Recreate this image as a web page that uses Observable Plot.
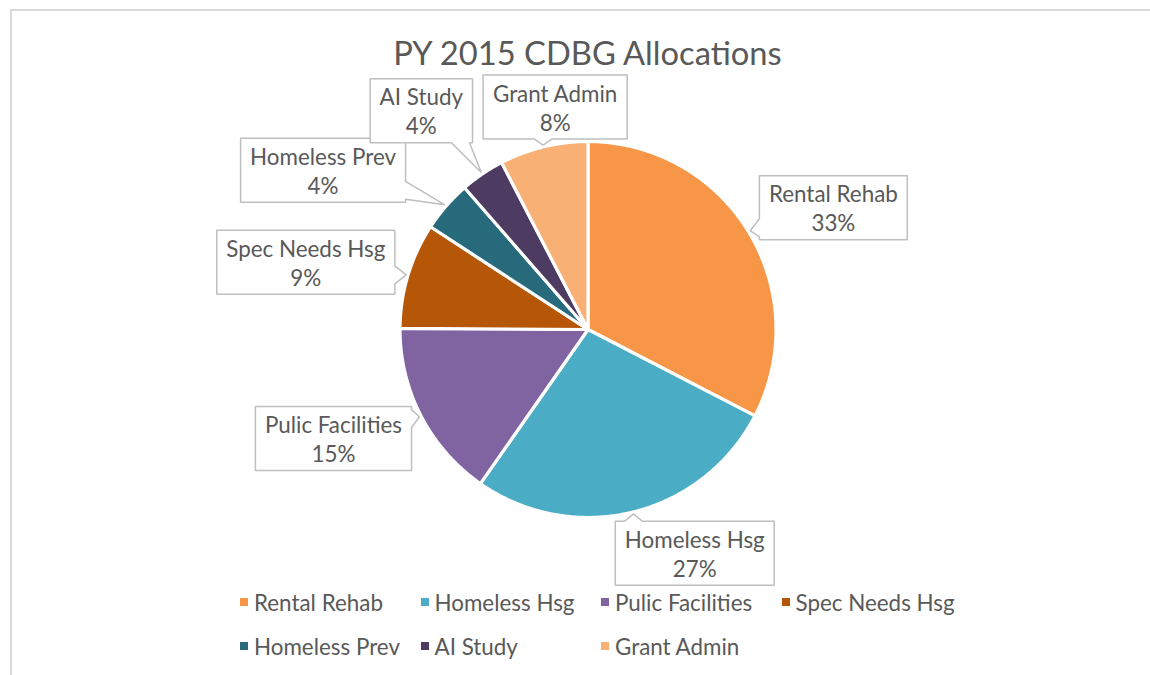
<!DOCTYPE html>
<html>
<head>
<meta charset="utf-8">
<script src="https://cdn.jsdelivr.net/npm/d3@7"></script>
<script src="https://cdn.jsdelivr.net/npm/@observablehq/plot@0.6"></script>
<style>
  html, body { margin: 0; padding: 0; background: #fff; }
  #wrap { position: relative; width: 1150px; height: 675px; overflow: hidden; font-family: Lato, "Open Sans", sans-serif; color: #595959; }
  #frame { position: absolute; left: 10px; top: 9px; width: 1150px; height: 680px; border-top: 2px solid #d9d9d9; border-left: 2px solid #d9d9d9; box-sizing: border-box; }
  #chart { position: absolute; left: 0; top: 0; }
  #title { position: absolute; left: 0; width: 1175px; text-align: center; white-space: nowrap; }
  .leg { position: absolute; display: flex; align-items: center; white-space: nowrap; }
  .leg i { display: inline-block; width: 8px; height: 8px; margin-right: 6px; }
</style>
</head>
<body>
<div id="wrap">
  <div id="frame"></div>
  <div id="chart"></div>
  <div id="title">PY 2015 CDBG Allocations</div>
  <div id="legend"></div>
</div>
<script>
// ---- data ----
const categories = ["Rental Rehab", "Homeless Hsg", "Pulic Facilities", "Spec Needs Hsg", "Homeless Prev", "AI Study", "Grant Admin"];
const shares = [32.6, 27.1, 15.4, 9.1, 4.4, 3.8, 7.6];
const colors = ["#F79646", "#4BACC6", "#8064A2", "#B65708", "#276A7C", "#4D3B62", "#F9B074"];
// callout box placement (angle clockwise from top in degrees, distance in pie radii)
const calloutAngle = [63.6, 154.5, 246.8, 283.4, 301, 322.7, 351.6];
const calloutDist = [1.457, 1.319, 1.473, 1.543, 1.644, 1.463, 1.197];

// ---- layout ----
const W = 1150, H = 675, cx = 587.5, cy = 329, Rpx = 188;
const textColor = "#595959";

// font sizing to match Calibri-like metrics
const ctx = document.createElement("canvas").getContext("2d");
function tw(s, size) { ctx.font = `${size}px Lato`; return ctx.measureText(s).width; }
const labelSize = 20 * 129 / tw("Rental Rehab", 20);
const titleSize = 32 * 391 / tw("PY 2015 CDBG Allocations", 32);

const total = d3.sum(shares);
const data = categories.map((c, i) => ({category: c, value: shares[i], pct: Math.round(shares[i] / total * 100)}));
const arcs = d3.pie().sort(null).value(d => d.value).startAngle(0).endAngle(2 * Math.PI)(data);

// slice polygons in pie units (radius 1, y up)
const slicePts = [];
arcs.forEach(a => {
  slicePts.push({category: a.data.category, x: 0, y: 0});
  const n = Math.max(2, Math.ceil((a.endAngle - a.startAngle) / (Math.PI / 360)));
  for (let k = 0; k <= n; k++) {
    const t = a.startAngle + (a.endAngle - a.startAngle) * k / n;
    slicePts.push({category: a.data.category, x: Math.sin(t), y: Math.cos(t)});
  }
  slicePts.push({category: a.data.category, x: 0, y: 0});
});

// callouts (computed in pixels relative to center, y down)
const calloutPts = [];
const calloutText = [];
arcs.forEach((a, i) => {
  const mid = (a.startAngle + a.endAngle) / 2;
  const tip = [Math.sin(mid) * Rpx * 1.01, -Math.cos(mid) * Rpx * 1.01];
  const ang = calloutAngle[i] * Math.PI / 180;
  const bx = Math.sin(ang) * Rpx * calloutDist[i], by = -Math.cos(ang) * Rpx * calloutDist[i];
  const lines = [a.data.category, a.data.pct + "%"];
  const w = Math.max(...lines.map(s => tw(s, labelSize))) + 19;
  const h = 64;
  const b = {x0: bx - w / 2, x1: bx + w / 2, y0: by - h / 2, y1: by + h / 2};
  const ox = tip[0] < b.x0 ? b.x0 - tip[0] : tip[0] > b.x1 ? tip[0] - b.x1 : 0;
  const oy = tip[1] < b.y0 ? b.y0 - tip[1] : tip[1] > b.y1 ? tip[1] - b.y1 : 0;
  const side = ox >= oy ? (tip[0] < b.x0 ? "left" : "right") : (tip[1] < b.y0 ? "top" : "bottom");
  const hw = 9, m = 12;
  const clamp = (v, lo, hi) => Math.max(lo, Math.min(hi, v));
  const p = [[b.x0, b.y0]];
  if (side === "top") { const c = clamp(tip[0], b.x0 + m, b.x1 - m); p.push([c - hw, b.y0], tip, [c + hw, b.y0]); }
  p.push([b.x1, b.y0]);
  if (side === "right") { const c = clamp(tip[1], b.y0 + m, b.y1 - m); p.push([b.x1, c - hw], tip, [b.x1, c + hw]); }
  p.push([b.x1, b.y1]);
  if (side === "bottom") { const c = clamp(tip[0], b.x0 + m, b.x1 - m); p.push([c + hw, b.y1], tip, [c - hw, b.y1]); }
  p.push([b.x0, b.y1]);
  if (side === "left") { const c = clamp(tip[1], b.y0 + m, b.y1 - m); p.push([b.x0, c + hw], tip, [b.x0, c - hw]); }
  p.push([b.x0, b.y0]);
  p.forEach(q => calloutPts.push({category: a.data.category, x: q[0] / Rpx, y: -q[1] / Rpx}));
  calloutText.push({text: lines.join("\n"), x: bx / Rpx, y: -by / Rpx});
});

const chart = Plot.plot({
  width: W, height: H,
  margin: 0,
  x: {domain: [-cx / Rpx, (W - cx) / Rpx], axis: null},
  y: {domain: [-(H - cy) / Rpx, cy / Rpx], axis: null},
  color: {domain: categories, range: colors},
  style: {background: "transparent", overflow: "visible"},
  marks: [
    Plot.line(slicePts, {x: "x", y: "y", z: "category", fill: "category", stroke: "white", strokeWidth: 3.2, strokeLinejoin: "round", curve: "linear"}),
    Plot.line(calloutPts, {x: "x", y: "y", z: "category", fill: "white", stroke: "#bfbfbf", strokeWidth: 1.5, curve: "linear", strokeLinejoin: "miter"}),
    Plot.text(calloutText, {x: "x", y: "y", text: "text", fontSize: labelSize, lineHeight: 29 / labelSize, fill: textColor, fontFamily: "Lato", textAnchor: "middle"})
  ]
});
document.getElementById("chart").appendChild(chart);

// title
const title = document.getElementById("title");
title.style.fontSize = titleSize + "px";
title.style.top = "37px";
title.style.lineHeight = "1";

// legend (HTML), grid of 4 columns
const legend = document.getElementById("legend");
categories.forEach((c, i) => {
  const col = i % 4, row = Math.floor(i / 4);
  const el = document.createElement("div");
  el.className = "leg";
  el.style.left = (240 + col * 180.5) + "px";
  el.style.top = (602 + row * 44 - 14) + "px";
  el.style.height = "28px";
  el.style.fontSize = labelSize + "px";
  el.innerHTML = `<i style="background:${colors[i]}"></i><span>${c}</span>`;
  legend.appendChild(el);
});
</script>
</body>
</html>
